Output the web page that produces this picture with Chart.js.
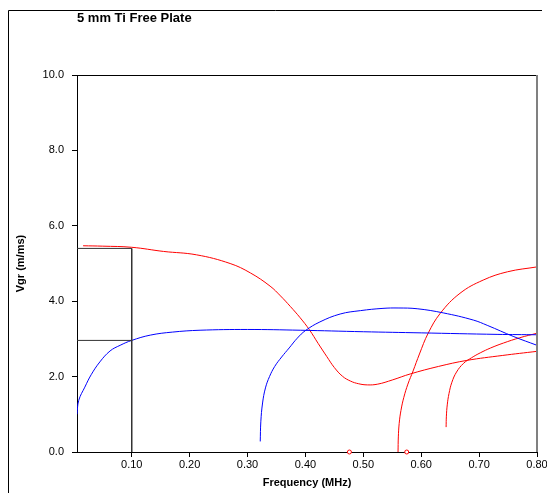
<html>
<head>
	<meta charset="utf-8">
	<title>5 mm Ti Free Plate</title>
	<script src="https://cdn.jsdelivr.net/npm/chart.js@4"></script>
	<style>
		body { margin: 0; background: #fff; }
		#frame { position: relative; width: 547px; height: 493px; }
		#myChart { position: absolute; left: 0; top: 0; }
	</style>
</head>
<body>
	<div id="frame">
		<canvas id="myChart" width="547" height="493"></canvas>
	</div>

	<script>

		// Texts
		var chartTitle = "5 mm Ti Free Plate";
		var xTitle = "Frequency (MHz)";
		var yTitle = "Vgr (m/ms)";

		// Axis ticks
		var xTicks = [0.10, 0.20, 0.30, 0.40, 0.50, 0.60, 0.70, 0.80];
		var yTicks = [0, 2, 4, 6, 8, 10];
		var xMin = 0.0055, xMax = 0.80;
		var yMin = 0, yMax = 10;

		// Blue curve 1 (starts at low frequency)
		var blue1F = [0.0055, 0.0085, 0.019, 0.03, 0.045, 0.0626, 0.08, 0.10, 0.132, 0.17, 0.218, 0.30, 0.391, 0.50, 0.60, 0.731, 0.80];
		var blue1V = [1.00, 1.37, 1.72, 2.05, 2.39, 2.68, 2.83, 2.96, 3.10, 3.18, 3.23, 3.25, 3.23, 3.19, 3.16, 3.12, 3.11];

		// Blue curve 2 (starts near 0.32 MHz)
		var blue2F = [0.322, 0.323, 0.326, 0.331, 0.338, 0.347, 0.359, 0.372, 0.386, 0.400, 0.425, 0.460, 0.495, 0.534, 0.560, 0.593, 0.638, 0.690, 0.714, 0.760, 0.80];
		var blue2V = [0.28, 0.80, 1.30, 1.70, 2.00, 2.27, 2.52, 2.76, 3.02, 3.22, 3.45, 3.66, 3.75, 3.81, 3.82, 3.80, 3.69, 3.50, 3.36, 3.06, 2.83];

		// Red curve 1 (high start, dips near 0.5 MHz)
		var red1F = [0.016, 0.05, 0.10, 0.155, 0.212, 0.27, 0.305, 0.339, 0.357, 0.374, 0.391, 0.407, 0.422, 0.437, 0.45, 0.464, 0.478, 0.492, 0.507, 0.525, 0.55, 0.581, 0.63, 0.679, 0.74, 0.80];
		var red1V = [5.47, 5.46, 5.43, 5.32, 5.23, 5.00, 4.75, 4.40, 4.14, 3.86, 3.56, 3.24, 2.88, 2.53, 2.24, 2.01, 1.88, 1.81, 1.78, 1.80, 1.91, 2.07, 2.27, 2.43, 2.56, 2.67];

		// Red curve 2 (starts at 0.56 MHz)
		var red2F = [0.560, 0.5605, 0.562, 0.565, 0.570, 0.577, 0.586, 0.597, 0.612, 0.633, 0.667, 0.707, 0.749, 0.80];
		var red2V = [0.00, 0.40, 0.76, 1.10, 1.45, 1.80, 2.15, 2.60, 3.15, 3.68, 4.21, 4.56, 4.78, 4.91];

		// Red curve 3 (starts near 0.645 MHz)
		var red3F = [0.643, 0.6435, 0.645, 0.648, 0.653, 0.661, 0.673, 0.687, 0.702, 0.72, 0.742, 0.77, 0.80];
		var red3V = [0.66, 0.95, 1.25, 1.55, 1.85, 2.12, 2.35, 2.50, 2.63, 2.76, 2.89, 3.03, 3.15];

		// Red markers on the frequency axis
		var markF = [0.476, 0.575];
		var markV = [0, 0];

		// Black guide lines at 0.10 MHz
		var guide1F = [0.0055, 0.10, 0.10];
		var guide1V = [5.40, 5.40, 0];
		var guide2F = [0.0055, 0.10];
		var guide2V = [2.96, 2.96];


		function pts(f, v) {
			var out = [];
			for (var i = 0; i < f.length; i++) {
				out.push({x: f[i], y: v[i]});
			}
			return out;
		}

		function curve(f, v, color, tension) {
			return {
				data: pts(f, v),
				showLine: true,
				borderColor: color,
				borderWidth: 1,
				pointRadius: 0,
				tension: tension,
				fill: false
			};
		}

		// Title, axis titles and frames
		var decor = {
			id: 'decor',
			afterDraw: function(chart) {
				var ctx = chart.ctx;
				var a = chart.chartArea;
				ctx.save();

				// outer frame (left and top only)
				ctx.strokeStyle = '#000';
				ctx.lineWidth = 1;
				ctx.beginPath();
				ctx.moveTo(8.5, 493);
				ctx.lineTo(8.5, 10.5);
				ctx.lineTo(542, 10.5);
				ctx.stroke();

				// plot box top and right
				ctx.beginPath();
				ctx.moveTo(a.left, Math.round(a.top) + 0.5);
				ctx.lineTo(a.right, Math.round(a.top) + 0.5);
				ctx.stroke();
				ctx.strokeStyle = '#808080';
				ctx.lineWidth = 2;
				ctx.beginPath();
				ctx.moveTo(Math.round(a.right), a.top);
				ctx.lineTo(Math.round(a.right), a.bottom);
				ctx.stroke();

				ctx.fillStyle = '#000';
				ctx.font = 'bold 13px "Liberation Sans", Arial, sans-serif';
				ctx.textAlign = 'left';
				ctx.textBaseline = 'alphabetic';
				ctx.fillText(chartTitle, 77, 22);

				ctx.font = 'bold 11px "Liberation Sans", Arial, sans-serif';
				ctx.textAlign = 'center';
				ctx.fillText(xTitle, (a.left + a.right) / 2, 486);

				ctx.translate(24, (a.top + a.bottom) / 2);
				ctx.rotate(-Math.PI / 2);
				ctx.fillText(yTitle, 0, 0);
				ctx.restore();
			}
		};

		var tickFont = {family: '"Liberation Sans", Arial, sans-serif', size: 11};

		var ctx = document.getElementById('myChart').getContext('2d');
		var chart = new Chart(ctx, {
			type: 'scatter',
			data: {
				datasets: [
					curve(guide1F, guide1V, '#333333', 0),
					curve(guide2F, guide2V, '#333333', 0),
					curve(blue1F, blue1V, 'rgb(0,0,255)', 0.4),
					curve(blue2F, blue2V, 'rgb(0,0,255)', 0.4),
					curve(red1F, red1V, 'rgb(255,0,0)', 0.4),
					curve(red2F, red2V, 'rgb(255,0,0)', 0.4),
					curve(red3F, red3V, 'rgb(255,0,0)', 0.4),
					{
						data: pts(markF, markV),
						showLine: false,
						pointRadius: 2,
						pointBorderWidth: 1,
						pointBorderColor: 'rgb(255,0,0)',
						pointBackgroundColor: '#fff',
						clip: false
					}
				]
			},
			options: {
				responsive: false,
				animation: false,
				devicePixelRatio: 1,
				layout: {
					padding: {left: 0, top: 75, right: 10, bottom: 0}
				},
				plugins: {
					legend: {display: false},
					title: {display: false},
					tooltip: {enabled: false}
				},
				scales: {
					x: {
						type: 'linear',
						min: xMin,
						max: xMax,
						afterBuildTicks: function(scale) {
							scale.ticks = xTicks.map(function(v) { return {value: v}; });
						},
						afterFit: function(scale) {
							scale.height = 41;
							scale.paddingLeft = 0;
							scale.paddingRight = 0;
						},
						ticks: {
							color: '#000',
							font: tickFont,
							padding: 1,
							maxRotation: 0,
							autoSkip: false,
							callback: function(v) { return Number(v).toFixed(2); }
						},
						grid: {
							drawOnChartArea: false,
							color: '#000',
							tickLength: 5
						},
						border: {color: '#000', width: 1}
					},
					y: {
						type: 'linear',
						min: yMin,
						max: yMax,
						afterBuildTicks: function(scale) {
							scale.ticks = yTicks.map(function(v) { return {value: v}; });
						},
						afterFit: function(scale) {
							scale.width = 77;
							scale.paddingTop = 0;
							scale.paddingBottom = 0;
						},
						ticks: {
							color: '#000',
							font: tickFont,
							padding: 8,
							callback: function(v) { return Number(v).toFixed(1); }
						},
						grid: {
							drawOnChartArea: false,
							color: '#000',
							tickLength: 5
						},
						border: {color: '#000', width: 1}
					}
				}
			},
			plugins: [decor]
		});

	</script>
</body>
</html>
